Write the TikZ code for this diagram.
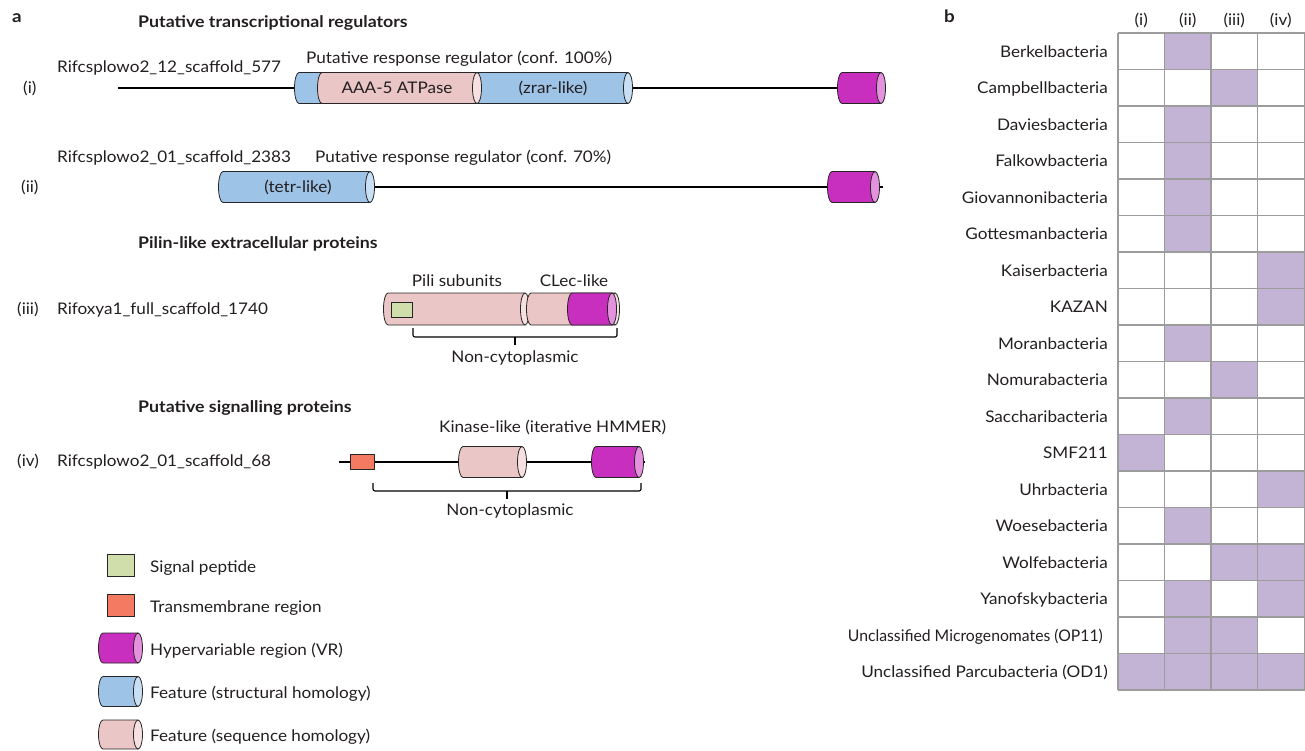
\documentclass[tikz,border=0pt]{standalone}
\usepackage{fontspec}
\setmainfont{Lato}[FakeStretch=1.07, BoldFeatures={FakeStretch=1.11}]
\definecolor{txt}{HTML}{231F20}
\definecolor{blueB}{HTML}{9DC3E6}
\definecolor{blueC}{HTML}{C9DFF3}
\definecolor{pinkB}{HTML}{EBC6C6}
\definecolor{pinkC}{HTML}{F6E0E0}
\definecolor{magB}{HTML}{C92FBE}
\definecolor{magC}{HTML}{E592DE}
\definecolor{greenB}{HTML}{CFDEAB}
\definecolor{redB}{HTML}{F47A62}
\definecolor{gridF}{HTML}{C3B4D6}
\definecolor{gridL}{HTML}{9C9C9C}
\newcommand{\crx}{4.5}
\newcommand{\mycyl}[6]{%
  \filldraw[cylline, fill=#5] (#2,#3+#4) -- (#1,#3+#4) arc[start angle=90,end angle=270,x radius=\crx,y radius=#4] -- (#2,#3-#4) -- cycle;
  \filldraw[cylline, fill=#6] (#2,#3) ellipse[x radius=\crx, y radius=#4];}
\tikzset{
  cylline/.style={draw=black!85, line width=0.8pt},
  backbone/.style={draw=black, line width=1.1pt},
  boxf/.style={draw=black!85, line width=0.8pt},
  lbl/.style={font=\fontsize{16}{19}\selectfont, text=txt, inner sep=0pt, text height=11.5pt, text depth=0pt},
  hd/.style={lbl, font=\fontsize{16}{19}\selectfont\bfseries},
  brace/.style={draw=black, line width=1.1pt, rounded corners=2pt},
  tick/.style={draw=black, line width=2pt},
  gridline/.style={draw=gridL, line width=1.4pt}
}
\begin{document}
\begin{tikzpicture}[x=1pt,y=-1pt]
\useasboundingbox (0,0) rectangle (1305,750);
% ---------- panel a ----------
\node[hd, anchor=west, font=\fontsize{17}{20}\selectfont\bfseries] (pa) at (12,17) {a};
\node[hd, anchor=west] (h1) at (138,22) {Putative transcriptional regulators};
% row (i)
\node[lbl, anchor=west] (ri) at (23,88) {(i)};
\node[lbl, anchor=west] (li) at (57,67) {Rifcsplowo2\_12\_scaffold\_577};
\node[lbl, anchor=west] (pri) at (306,58) {Putative response regulator (conf. 100\%)};
\coordinate (r1s) at (118,88);
\coordinate (r1e) at (886,88);
\draw[backbone] (r1s) -- (r1e);
\mycyl{299}{628}{88}{15.5}{blueB}{blueC}
\mycyl{322}{477}{88}{15.5}{pinkB}{pinkC}
\mycyl{842}{881}{88}{15.5}{magB}{magC}
\node[lbl] (aaa) at (397,88) {AAA-5 ATPase};
\node[lbl] (zrar) at (553,88) {(zrar-like)};
% row (ii)
\node[lbl, anchor=west] (rii) at (21,187) {(ii)};
\node[lbl, anchor=west] (lii) at (57,157) {Rifcsplowo2\_01\_scaffold\_2383};
\node[lbl, anchor=west] (prii) at (315,157) {Putative response regulator (conf. 70\%)};
\coordinate (r2s) at (220,187);
\coordinate (r2e) at (883,187);
\draw[backbone] (r2s) -- (r2e);
\mycyl{223}{370}{187}{15.5}{blueB}{blueC}
\mycyl{832}{875}{187}{15.5}{magB}{magC}
\node[lbl] (tetr) at (298,187) {(tetr-like)};
% row (iii)
\node[hd, anchor=west] (h2) at (138,243) {Pilin-like extracellular proteins};
\node[lbl, anchor=west] (riii) at (17,309) {(iii)};
\node[lbl, anchor=west] (liii) at (57,309) {Rifoxya1\_full\_scaffold\_1740};
\coordinate (r3s) at (385,309);
\coordinate (r3e) at (620,309);
\draw[backbone] (r3s) -- (r3e);
\mycyl{388}{525}{309}{16}{pinkB}{pinkC}
\mycyl{531}{615}{309}{16}{pinkB}{pinkC}
\mycyl{572}{612}{309}{16}{magB}{magC}
\filldraw[boxf, fill=greenB] (391,302) rectangle (412,317);
\node[lbl] (pili) at (457,281) {Pili subunits};
\node[lbl] (clec) at (574,281) {CLec-like};
\coordinate (b3l) at (413,328);
\coordinate (b3r) at (617,328);
\coordinate (b3m) at (515,337);
\coordinate (b3t) at (515,345);
\draw[brace] (b3l) -- (413,337) -- (617,337) -- (b3r);
\draw[tick] (b3m) -- (b3t);
\node[lbl] (nc3) at (515,357) {Non-cytoplasmic};
% row (iv)
\node[hd, anchor=west] (h3) at (138,407) {Putative signalling proteins};
\node[lbl, anchor=west] (riv) at (17,461) {(iv)};
\node[lbl, anchor=west] (liv) at (57,461) {Rifcsplowo2\_01\_scaffold\_68};
\node[lbl, anchor=west] (kin) at (439,427) {Kinase-like (iterative HMMER)};
\coordinate (r4s) at (339,462);
\coordinate (r4e) at (645,462);
\draw[backbone] (r4s) -- (r4e);
\filldraw[boxf, fill=redB] (350,454) rectangle (374,469);
\mycyl{463}{522}{462}{15.5}{pinkB}{pinkC}
\mycyl{596}{639}{462}{15.5}{magB}{magC}
\coordinate (b4l) at (373,483);
\coordinate (b4r) at (641,483);
\coordinate (b4m) at (507,491);
\coordinate (b4t) at (507,499);
\draw[brace] (b4l) -- (373,491) -- (641,491) -- (b4r);
\draw[tick] (b4m) -- (b4t);
\node[lbl] (nc4) at (510,510) {Non-cytoplasmic};
% legend
\filldraw[boxf, fill=greenB] (107,554) rectangle (134,576);
\node[lbl, anchor=west] (lg1) at (150,567) {Signal peptide};
\filldraw[boxf, fill=redB] (107,594) rectangle (134,616);
\node[lbl, anchor=west] (lg2) at (150,607) {Transmembrane region};
\mycyl{103}{138}{648}{15}{magB}{magC}
\node[lbl, anchor=west] (lg3) at (150,650) {Hypervariable region (VR)};
\mycyl{103}{138}{691.5}{15}{blueB}{blueC}
\node[lbl, anchor=west] (lg4) at (150,693) {Feature (structural homology)};
\mycyl{103}{138}{734.5}{14.5}{pinkB}{pinkC}
\node[lbl, anchor=west] (lg5) at (150,736) {Feature (sequence homology)};
% ---------- panel b ----------
\node[hd, anchor=west, font=\fontsize{17}{20}\selectfont\bfseries] (pb) at (944,17) {b};
\def\gx{1118}\def\gw{46.5}\def\gy{33}\def\gh{36.5}
\foreach \c/\t in {0/(i),1/(ii),2/(iii),3/(iv)}
  \node[lbl] (col\c) at ({\gx+(\c+0.5)*\gw},20) {\t};
\foreach \r/\c in {0/1,1/2,2/1,3/1,4/1,5/1,6/3,7/3,8/1,9/2,10/1,11/0,12/3,13/1,14/2,14/3,15/1,15/3,16/1,16/2,17/0,17/1,17/2,17/3}
  \fill[gridF] ({\gx+\c*\gw},{\gy+\r*\gh}) rectangle ({\gx+(\c+1)*\gw},{\gy+(\r+1)*\gh});
\foreach \k in {0,...,18}
  \draw[gridline] (\gx,{\gy+\k*\gh}) -- (1305,{\gy+\k*\gh});
\foreach \c in {0,...,3}
  \draw[gridline] ({\gx+\c*\gw},\gy) -- ({\gx+\c*\gw},{\gy+18*\gh});
\draw[gridline] (1304.3,\gy) -- (1304.3,{\gy+18*\gh});
\foreach \nm [count=\k from 0] in {Berkelbacteria,Campbellbacteria,Daviesbacteria,Falkowbacteria,Giovannonibacteria,Gottesmanbacteria,Kaiserbacteria,KAZAN,Moranbacteria,Nomurabacteria,Saccharibacteria,SMF211,Uhrbacteria,Woesebacteria,Wolfebacteria,Yanofskybacteria}
  \node[lbl, anchor=east] (tx\k) at (1108,{\gy+(\k+0.5)*\gh}) {\nm};
\node[lbl, anchor=east] (tx16) at (1103,{\gy+16.5*\gh}) {\scalebox{0.92}[1]{Unclassified Microgenomates (OP11)}};
\node[lbl, anchor=east] (tx17) at (1108,{\gy+17.5*\gh}) {Unclassified Parcubacteria (OD1)};
\end{tikzpicture}
\end{document}
